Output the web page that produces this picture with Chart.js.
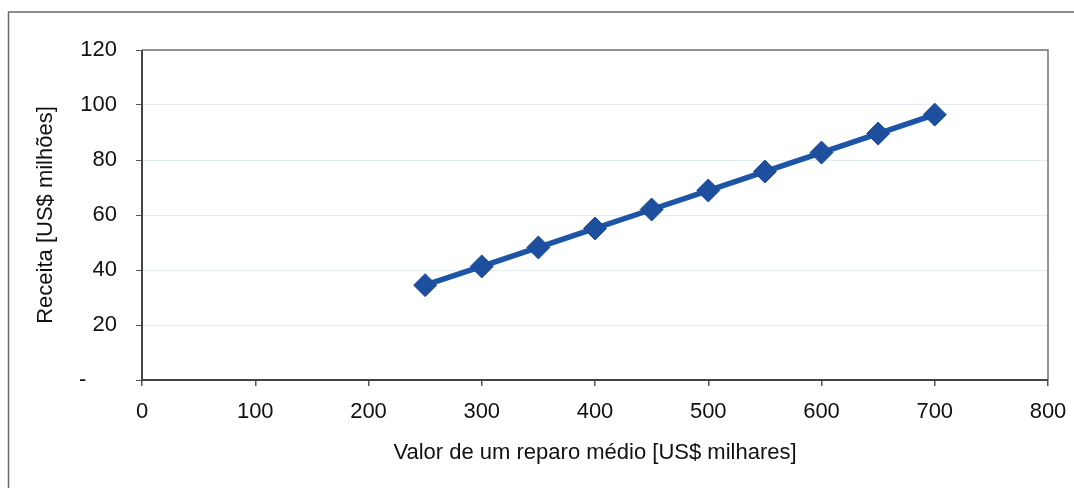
<!DOCTYPE html>
<html>
<head>
<meta charset="utf-8">
<script src="https://cdn.jsdelivr.net/npm/chart.js@4.4.1/dist/chart.umd.min.js"></script>
<style>
html,body{margin:0;padding:0;background:#fff;}
#wrap{width:1074px;height:488px;position:relative;}
</style>
</head>
<body>
<div id="wrap"><canvas id="c" width="1074" height="488"></canvas></div>
<script>
const repairValues = [250, 300, 350, 400, 450, 500, 550, 600, 650, 700];
const revenue = [34.5, 41.3, 48.2, 55.1, 62.0, 68.9, 75.8, 82.7, 89.6, 96.5];
const xTicks = [0, 100, 200, 300, 400, 500, 600, 700, 800];
const yTicks = [0, 20, 40, 60, 80, 100, 120];
const xTitle = 'Valor de um reparo médio [US$ milhares]';
const yTitle = 'Receita [US$ milhões]';

const FONT = 'Liberation Sans, Arial, sans-serif';

const framePlugin = {
  id: 'frame',
  beforeDraw(chart) {
    const ctx = chart.ctx;
    ctx.save();
    ctx.strokeStyle = '#6a6a6a';
    ctx.lineWidth = 1.5;
    ctx.beginPath();
    ctx.moveTo(8.5, 488);
    ctx.lineTo(8.5, 12);
    ctx.lineTo(1074, 12);
    ctx.stroke();
    ctx.restore();
  },
  beforeDatasetsDraw(chart) {
    const {ctx, chartArea: a} = chart;
    ctx.save();
    ctx.strokeStyle = '#707070';
    ctx.lineWidth = 1.5;
    ctx.beginPath();
    ctx.moveTo(a.left, a.top);
    ctx.lineTo(a.right, a.top);
    ctx.lineTo(a.right, a.bottom);
    ctx.stroke();
    ctx.strokeStyle = '#444';
    ctx.lineWidth = 2;
    ctx.beginPath();
    ctx.moveTo(a.left, a.top);
    ctx.lineTo(a.left, a.bottom);
    ctx.lineTo(a.right, a.bottom);
    ctx.stroke();
    ctx.restore();
  }
};

new Chart(document.getElementById('c'), {
  type: 'line',
  data: {
    datasets: [{
      data: repairValues.map((x, i) => ({x: x, y: revenue[i]})),
      borderColor: '#1d55a6',
      backgroundColor: '#1c4c98',
      borderWidth: 5.5,
      pointStyle: 'rectRot',
      pointRadius: 11.5,
      pointBorderWidth: 1,
      pointBorderColor: '#1c4c98',
      pointBackgroundColor: '#1d4f9e',
      tension: 0
    }]
  },
  options: {
    responsive: false,
    animation: false,
    devicePixelRatio: 1,
    layout: {padding: {left: 0, right: 26, top: 50, bottom: 0}},
    plugins: {legend: {display: false}, tooltip: {enabled: false}},
    scales: {
      x: {
        type: 'linear',
        min: 0, max: 800,
        afterBuildTicks(s) { s.ticks = xTicks.map(v => ({value: v})); },
        afterFit(s) { s.height = 108; s.paddingLeft = 0; s.paddingRight = 0; },
        border: {display: false},
        grid: {drawOnChartArea: false, drawTicks: true, tickLength: 6, color: '#555', tickColor: '#555', lineWidth: 1.5},
        ticks: {color: '#111', font: {family: FONT, size: 22}, padding: 13, maxRotation: 0},
        title: {display: true, text: xTitle, color: '#111', font: {family: FONT, size: 22}, padding: {top: 0, bottom: 22}}
      },
      y: {
        type: 'linear',
        min: 0, max: 120,
        afterBuildTicks(s) { s.ticks = yTicks.map(v => ({value: v})); },
        afterFit(s) { s.width = 142; s.paddingTop = 0; s.paddingBottom = 0; },
        border: {display: false},
        grid: {color: '#e4edf2', lineWidth: 1, tickLength: 6, tickColor: '#555'},
        ticks: {color: '#111', font: {family: FONT, size: 22}, padding: 19,
          callback: v => v === 0 ? '-     ' : String(v)},
        title: {display: true, text: yTitle, color: '#111', font: {family: FONT, size: 22}, padding: {top: 33, bottom: 0}}
      }
    }
  },
  plugins: [framePlugin]
});
</script>
</body>
</html>
